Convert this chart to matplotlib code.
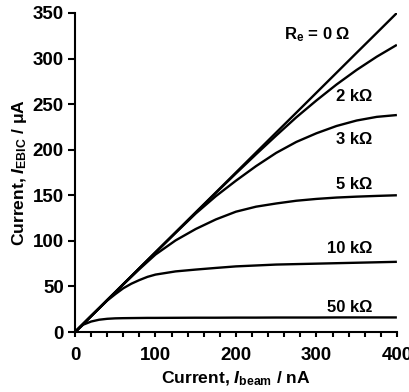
import numpy as np
import matplotlib
matplotlib.use("Agg")
import matplotlib.pyplot as plt

plt.rcParams.update({
    "font.family": ["Liberation Sans", "DejaVu Sans"],
    "font.weight": "bold",
    "mathtext.fontset": "custom",
    "mathtext.rm": "Liberation Sans:bold",
    "mathtext.it": "Liberation Sans:bold:italic",
    "mathtext.bf": "Liberation Sans:bold",
})

# --- Data (I_beam in nA, I_EBIC in uA) ---
i_beam = [0, 10, 20, 30, 40, 50, 60, 70, 80, 90, 100, 125, 150, 175,
          200, 225, 250, 275, 300, 325, 350, 375, 400]

r_0 = [0, 8.75, 17.5, 26.25, 35, 43.75, 52.5, 61.25, 70, 78.75, 87.5, 109.4,
       131.3, 153.1, 175, 196.9, 218.8, 240.6, 262.5, 284.4, 306.3, 328.1, 350]
r_2k = [0, 8.75, 17.5, 26.2, 35, 43.7, 52.5, 61.2, 70, 78.7, 87.4, 109.2,
        131, 152.6, 174, 195, 215.5, 235.5, 254, 271.5, 287.5, 302, 315]
r_3k = [0, 8.75, 17.5, 26.2, 35, 43.7, 52.5, 61.2, 70, 78.6, 87.3, 108.8,
        130, 149, 166, 182, 196.5, 208.5, 218, 226, 232, 236, 238]
r_5k = [0, 8.75, 17.5, 26.2, 35, 43.6, 52.2, 60.6, 69, 77, 85, 100.5,
        113, 123.5, 132, 137.5, 141, 144, 146, 147.5, 148.5, 149.3, 150]
r_10k = [0, 8.75, 17.5, 26, 34.5, 41.5, 48, 53, 57, 60.5, 63, 66.5,
         68.5, 70.3, 72, 73, 74, 74.5, 75, 75.5, 76, 76.5, 77]
r_50k = [0, 8, 11.5, 13.5, 14.5, 15, 15.2, 15.3, 15.4, 15.5, 15.5, 15.6,
         15.7, 15.7, 15.8, 15.8, 15.9, 15.9, 15.9, 16, 16, 16, 16]

curves = [r_0, r_2k, r_3k, r_5k, r_10k, r_50k]
labels = [r"R$_\mathrm{e}$ = 0 Ω", "2 kΩ", "3 kΩ", "5 kΩ", "10 kΩ", "50 kΩ"]
label_x = [342, 369, 369, 369, 369, 369]
label_y = [326, 258, 211, 162, 92, 27]

fig = plt.figure(figsize=(4.10, 3.92), dpi=100)
ax = fig.add_axes([0.183, 0.153, 0.785, 0.814])

for c in curves:
    ax.plot(i_beam, c, color="black", lw=1.7, solid_capstyle="butt")

for txt, xx, yy in zip(labels, label_x, label_y):
    ax.text(xx, yy, txt, ha="right", va="center", fontsize=12, fontweight="bold")

ax.set_xlim(0, 400)
ax.set_ylim(0, 350)
ax.set_xticks([0, 100, 200, 300, 400])
ax.set_xticks(np.arange(0, 401, 20), minor=True)
ax.set_yticks(np.arange(0, 351, 50))

for s in ["top", "right"]:
    ax.spines[s].set_visible(False)
for s in ["left", "bottom"]:
    ax.spines[s].set_linewidth(1.5)

ax.tick_params(axis="y", which="major", direction="out", length=5, width=1.5,
               labelsize=13.5, pad=3)
ax.tick_params(axis="x", which="both", direction="out", length=3.6, width=1.5,
               labelsize=13.5, pad=7)
for lab in ax.get_xticklabels() + ax.get_yticklabels():
    lab.set_fontweight("bold")

ax.set_xlabel(r"Current, $I_\mathrm{beam}$ / nA", fontsize=12.6, fontweight="bold",
              labelpad=4)
ax.set_ylabel(r"Current, $I_\mathrm{EBIC}$ / μA", fontsize=12.6, fontweight="bold",
              labelpad=3)

fig.savefig("out.png", dpi=100)
